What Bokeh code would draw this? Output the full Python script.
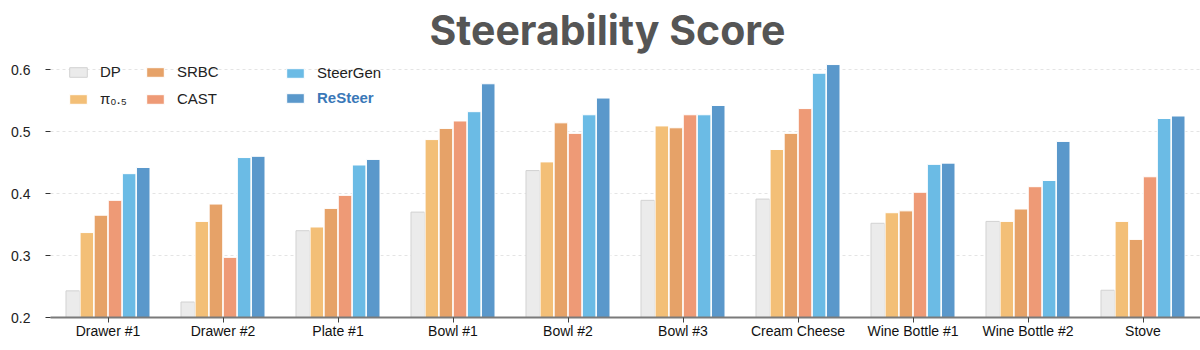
from bokeh.plotting import figure
from bokeh.models import ColumnDataSource, FactorRange, Legend, LegendItem, FixedTicker, Range1d
from bokeh.transform import dodge
from bokeh.embed import file_html
from bokeh.resources import INLINE

tasks = ["Drawer #1", "Drawer #2", "Plate #1", "Bowl #1", "Bowl #2", "Bowl #3",
         "Cream Cheese", "Wine Bottle #1", "Wine Bottle #2", "Stove"]

dp       = [0.243, 0.225, 0.340, 0.370, 0.437, 0.389, 0.391, 0.352, 0.355, 0.244]
pi05     = [0.337, 0.355, 0.346, 0.487, 0.451, 0.509, 0.471, 0.369, 0.355, 0.355]
srbc     = [0.365, 0.383, 0.376, 0.505, 0.514, 0.506, 0.497, 0.372, 0.375, 0.326]
cast     = [0.389, 0.297, 0.397, 0.517, 0.497, 0.527, 0.537, 0.402, 0.411, 0.427]
steergen = [0.432, 0.458, 0.446, 0.532, 0.527, 0.527, 0.594, 0.447, 0.421, 0.521]
resteer  = [0.442, 0.460, 0.455, 0.577, 0.554, 0.542, 0.608, 0.449, 0.484, 0.525]

y_ticks = [0.2, 0.3, 0.4, 0.5, 0.6]

series = [
    ("dp", dp, "#ebebeb", "#d2d2d2"),
    ("pi05", pi05, "#f3bf77", "white"),
    ("srbc", srbc, "#e6a268", "white"),
    ("cast", cast, "#ee9a76", "white"),
    ("steergen", steergen, "#6bbbe5", "white"),
    ("resteer", resteer, "#5a98cb", "white"),
]

source = ColumnDataSource(dict(task=tasks, dp=dp, pi05=pi05, srbc=srbc, cast=cast,
                               steergen=steergen, resteer=resteer))

p = figure(x_range=FactorRange(*tasks, range_padding=0), y_range=Range1d(0.2, 0.621),
           width=1200, height=350, output_backend="svg", toolbar_location=None,
           min_border_left=50, min_border_right=0, min_border_top=55, min_border_bottom=33)

p.title.text = "Steerability Score"
p.title.align = "left"
p.title.offset = 379
p.title.standoff = 4
p.title.text_font = "Inter"
p.title.text_font_style = "bold"
p.title.text_font_size = "41px"
p.title.text_line_height = 0.8
p.title.text_color = "#555555"

pitch = 0.1225
width = 0.118
renderers = {}
for i, (name, vals, fill, line) in enumerate(series):
    r = p.vbar(x=dodge("task", (i - 2.5) * pitch, range=p.x_range), top=name, bottom=0.2,
               width=width, source=source, fill_color=fill, line_color=line, line_width=1)
    renderers[name] = r

p.outline_line_color = None
p.background_fill_color = "white"
p.border_fill_color = "white"

# grid
p.xgrid.grid_line_color = None
p.ygrid.ticker = FixedTicker(ticks=y_ticks[1:])
p.ygrid.grid_line_color = "#e4e4e4"
p.ygrid.grid_line_dash = "3 3"
p.ygrid.grid_line_width = 1

# y axis
p.yaxis.ticker = FixedTicker(ticks=y_ticks)
p.yaxis.axis_line_color = None
p.yaxis.major_tick_out = 5
p.yaxis.major_tick_in = 0
p.yaxis.minor_tick_line_color = None
p.yaxis.major_tick_line_color = "#333333"
p.yaxis.major_label_standoff = 15
p.yaxis.major_label_text_font = "Liberation Sans"
p.yaxis.major_label_text_font_size = "14px"
p.yaxis.major_label_text_color = "#222222"

# x axis
p.xaxis.axis_line_color = "#7a7a7a"
p.xaxis.axis_line_width = 2
p.xaxis.major_tick_out = 5
p.xaxis.major_tick_in = 0
p.xaxis.major_tick_line_color = "#444444"
p.xaxis.major_label_standoff = 0
p.xaxis.major_label_text_font = "Liberation Sans"
p.xaxis.major_label_text_font_size = "14px"
p.xaxis.major_label_text_color = "#111111"

def make_legend(items, loc, color="#222222", style="normal"):
    lg = Legend(items=items, location=loc, orientation="vertical",
                padding=0, margin=0, spacing=10, border_line_color=None,
                background_fill_alpha=0, glyph_width=22, glyph_height=12,
                label_height=12, label_standoff=11,
                label_text_font="Liberation Sans", label_text_font_size="15px",
                label_text_color=color, label_text_font_style=style)
    p.add_layout(lg, "center")

make_legend([LegendItem(label="DP", renderers=[renderers["dp"]]),
             LegendItem(label="π₀.₅", renderers=[renderers["pi05"]])], (17, 210))
make_legend([LegendItem(label="SRBC", renderers=[renderers["srbc"]]),
             LegendItem(label="CAST", renderers=[renderers["cast"]])], (94, 210))
make_legend([LegendItem(label="SteerGen", renderers=[renderers["steergen"]])], (234, 236))
make_legend([LegendItem(label="ReSteer", renderers=[renderers["resteer"]])], (234, 211),
            color="#3a78b8", style="bold")

open("out.html", "w").write(file_html(p, INLINE))
